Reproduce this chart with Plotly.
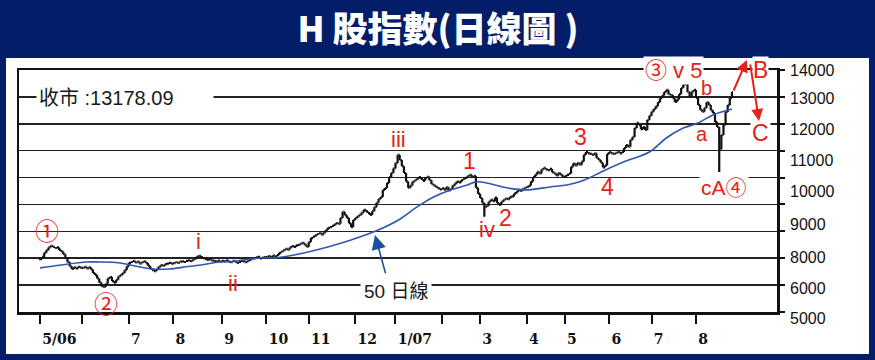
import numpy as np
import pandas as pd
import plotly.graph_objects as go

# ---------------- data ----------------
# daily closes of the H-share index, one list per month (trading sessions)
may06 = [6970, 7050, 7200, 7300, 7400, 7460, 7420, 7380, 7400, 7310, 7250, 7150, 7000, 6860, 6700, 6600, 6660, 6620, 6680, 6650]
jun06 = [6640, 6680, 6620, 6660, 6580, 6450, 6380, 6250, 6100, 5960, 5930, 6050, 6250, 6300, 6150, 6090, 6200, 6320, 6380, 6450, 6560, 6700]
jul06 = [6830, 6860, 6900, 6840, 6870, 6800, 6850, 6880, 6820, 6720, 6620, 6560, 6520, 6580, 6680, 6740, 6720, 6780, 6800, 6830, 6800]
aug06 = [6820, 6850, 6830, 6870, 6880, 6860, 6900, 6920, 6890, 6940, 6980, 7060, 7090, 7040, 7000, 6970, 6940, 6960, 6920, 6900, 6880, 6910, 6870]
sep06 = [6900, 6880, 6920, 6870, 6850, 6900, 6870, 6830, 6860, 6900, 6880, 6850, 6900, 6940, 6980, 7000, 7030, 7050, 6990, 7020, 7040]
oct06 = [7050, 7080, 7030, 7100, 7060, 7120, 7200, 7250, 7300, 7350, 7320, 7400, 7450, 7420, 7480, 7500, 7540, 7570, 7500, 7430]
nov06 = [7600, 7750, 7800, 7850, 7900, 7940, 7880, 7960, 8050, 8130, 8160, 8200, 8250, 8310, 8280, 8500, 8720, 8600, 8500, 8300, 8160, 8420]
dec06 = [8500, 8560, 8620, 8700, 8800, 8740, 8680, 8610, 8750, 8900, 9060, 9200, 9280, 9540, 9610, 9800, 10020, 10170, 10340]
jan07 = [10540, 10840, 10650, 10420, 10170, 9850, 9620, 9700, 9840, 9900, 9960, 10020, 9950, 9880, 9980, 10030, 9900, 9760, 9700, 9650, 9600, 9560]
feb07 = [9600, 9550, 9640, 9520, 9580, 9700, 9780, 9850, 9820, 9900, 9950, 9990, 10050, 10100, 10020, 10060, 9620, 9400]
mar07 = [9240, 9060, 8900, 8950, 9100, 9170, 9120, 9250, 9050, 8980, 9100, 9170, 9220, 9200, 9280, 9300, 9400, 9460, 9540, 9500, 9580, 9620]
apr07 = [9650, 9700, 9850, 10020, 10100, 10210, 10150, 10300, 10360, 10300, 10280, 10320, 10200, 10150, 10080, 10170, 10100, 10020]
may07 = [10050, 10100, 10150, 10400, 10520, 10450, 10540, 10480, 10600, 10850, 10950, 10900, 10880, 10840, 10900, 10730, 10650, 10550, 10380, 10450, 10880]
jun07 = [10950, 10900, 10880, 10920, 10960, 10900, 10950, 11100, 11210, 11150, 11400, 11510, 11840, 12030, 11950, 11800, 11880, 11770, 12140, 12300]
jul07 = [12450, 12550, 12650, 12800, 12950, 13050, 13180, 13260, 13100, 13070, 12950, 12810, 12900, 13100, 13330, 13450, 13520, 13180, 13000, 13200, 13260]
aug07 = [12960, 12700, 12520, 12450, 12590, 12800, 12700, 12500, 12400, 12070, 11880, 11050, 11580, 11950, 12440, 12700, 12960, 13178.09]

month_keys = ["2006-05", "2006-06", "2006-07", "2006-08", "2006-09", "2006-10", "2006-11", "2006-12",
              "2007-01", "2007-02", "2007-03", "2007-04", "2007-05", "2007-06", "2007-07", "2007-08"]
month_closes = [may06, jun06, jul06, aug06, sep06, oct06, nov06, dec06,
                jan07, feb07, mar07, apr07, may07, jun07, jul07, aug07]
month_labels = ["5/06", "", "7", "8", "9", "10", "11", "12", "1/07", "", "3", "4", "5", "6", "7", "8"]

hk_holidays = ["2006-05-01", "2006-05-05", "2006-05-31", "2006-10-02", "2006-10-30", "2006-12-25",
               "2006-12-26", "2007-01-01", "2007-02-19", "2007-02-20", "2007-04-05", "2007-04-06",
               "2007-04-09", "2007-05-01", "2007-05-24", "2007-06-19", "2007-07-02"]

# intraday spikes: (month, session within month, low)
wick_lows = [("2007-03", 2, 8540), ("2007-08", 11, 10210)]

# 50-day moving average (session number, value)
ma_session = [0, 10, 22, 28, 37, 45, 53, 61, 69, 76, 85, 91, 104, 112, 120, 136, 147, 159, 170, 178,
              186, 194, 202, 206, 211, 221, 230, 241, 249, 255, 260, 265, 276, 288, 296, 304, 311, 318, 327]
ma_value = [6640, 6750, 6860, 6860, 6830, 6710, 6600, 6600, 6680, 6750, 6860, 6880, 7010, 7020, 7120,
            7420, 7680, 8020, 8450, 8900, 9280, 9540, 9725, 9840, 9800, 9610, 9540, 9650, 9720, 9840,
            10000, 10200, 10590, 10950, 11470, 11840, 12030, 12330, 12550]

ytick_text = ["14000", "13000", "12000", "11000", "10000", "9000", "8000", "6000", "5000"]
ytick_at = [14000, 13000, 12000, 11000, 10000, 9000, 8000, 6000, 5000]
ytick_drift = [0, -2, -6, -10, -14, -20, -26, -3, -6]   # label offsets as printed (px)

# ---------------- build sessions ----------------
hol = pd.to_datetime(hk_holidays)
dates, closes, month_first = [], [], {}
for key, vals in zip(month_keys, month_closes):
    start = pd.Timestamp(key + "-01")
    bd = pd.bdate_range(start, start + pd.offsets.MonthEnd(0))
    td = bd[~bd.isin(hol)]
    if len(td) < len(vals):
        td = bd
    month_first[key] = len(closes)
    dates += list(td[:len(vals)])
    closes += list(vals)

session = np.arange(len(closes))
opens = [closes[0]] + closes[:-1]
highs = [max(o, c) for o, c in zip(opens, closes)]
lows = [min(o, c) for o, c in zip(opens, closes)]
for key, pos, lo in wick_lows:
    lows[month_first[key] + pos] = lo

NAVY = "#041d68"
RED = "#e62117"
BLUE = "#2f56b0"

fig = go.Figure()
fig.add_trace(go.Ohlc(
    x=session, open=opens, high=highs, low=lows, close=closes,
    increasing=dict(line=dict(color="#111111", width=2.2)),
    decreasing=dict(line=dict(color="#111111", width=2.2)),
    tickwidth=0.5, showlegend=False, hoverinfo="skip"))
fig.add_trace(go.Scatter(
    x=ma_session, y=ma_value, mode="lines",
    line=dict(color=BLUE, width=1.6, shape="spline", smoothing=1.0),
    showlegend=False, hoverinfo="skip"))

tickvals = [month_first[k] for k in month_keys]

fig.update_layout(
    width=875, height=360,
    margin=dict(l=19, r=98, t=70, b=48),
    paper_bgcolor=NAVY, plot_bgcolor="white",
    title=dict(text="H 股指數(日線圖 )", x=0.5006, y=0.9167, xanchor="center", yanchor="middle",
               font=dict(family="Noto Sans CJK TC", size=35, color="white", weight=900)),
    xaxis=dict(range=[-9.92, 348.3], tickmode="array", tickvals=tickvals, ticktext=month_labels,
               ticks="outside", ticklen=9, tickwidth=2, tickcolor="#111",
               ticklabelposition="outside right", ticklabelstandoff=13,
               tickfont=dict(family="DejaVu Serif", size=14, color="#111", weight="bold"),
               showgrid=False, zeroline=False, showline=True, linewidth=2.5, linecolor="#111",
               mirror=True, rangeslider=dict(visible=False), fixedrange=True),
    yaxis=dict(range=[5000, 14000], side="right", tick0=5000, dtick=1000,
               showgrid=True, gridcolor="#222", gridwidth=1.6,
               ticks="outside", ticklen=5, tickwidth=2, tickcolor="#111",
               showticklabels=False, zeroline=False, showline=True, linewidth=2.5,
               linecolor="#111", mirror=True, fixedrange=True),
    shapes=[dict(type="rect", xref="paper", yref="paper", x0=-0.01715, x1=1.12137,
                 y0=-0.17355, y1=1.04959, fillcolor="white", line=dict(width=0), layer="below")],
)

ann = []
for t, v, d in zip(ytick_text, ytick_at, ytick_drift):
    ann.append(dict(text=t, xref="paper", x=1, xanchor="left", xshift=11, yref="y", y=v,
                    yshift=d, showarrow=False,
                    font=dict(family="Liberation Sans", size=16, color="#111")))

def red(text, x, y, size=22, bg=None, pad=1, family="Liberation Sans, Noto Sans CJK TC"):
    d = dict(text=text, x=x, y=y, xref="x", yref="y", showarrow=False,
             font=dict(family=family, size=size, color=RED))
    if bg:
        d.update(bgcolor=bg, borderpad=pad)
    return d

ann += [
    red("①", 3.3, 8050, size=24, family="Noto Sans CJK TC"),
    red("②", 31.2, 5340, size=24, family="Noto Sans CJK TC"),
    red("i", 75.1, 7607),
    red("ii", 91.2, 6046),
    red("iii", 169.2, 11398),
    red("1", 203.2, 10618, size=23),
    red("iv", 211.2, 8053),
    red("2", 220.2, 8499, size=23),
    red("3", 255.2, 11510, size=23),
    red("4", 268.4, 9651, size=23),
    red("③ v 5", 299.4, 13963, size=22, bg="white"),
    red("b", 315.2, 13331, size=20),
    red("a", 312.9, 11621, size=20),
    red("cA④", 323.3, 9614, size=21, bg="white"),
    red("B", 340.7, 14000, size=23, bg="white", pad=0),
    red("C", 340.7, 11658, size=23, bg="white"),
]

ann += [
    dict(text="收市 :13178.09", x=-1.9, y=12959, xref="x", yref="y", xanchor="left",
         showarrow=False, bgcolor="white", width=172, align="left", borderpad=2,
         font=dict(family="Liberation Sans, Noto Sans CJK TC", size=20, color="#1a1a1a")),
    dict(text="50 日線", x=168.2, y=5748, xref="x", yref="y", showarrow=False,
         bgcolor="white", borderpad=3,
         font=dict(family="Liberation Sans, Noto Sans CJK TC", size=19, color="#1a1a1a")),
    dict(text="", x=158.3, y=7867, xref="x", yref="y", showarrow=True, ax=11, ay=40,
         arrowcolor="#1d4f9f", arrowhead=2, arrowsize=1.8, arrowwidth=1.6),
    dict(text="", x=334.1, y=1.0413, xref="x", yref="paper", showarrow=True, ax=-14, ay=32,
         arrowcolor=RED, arrowhead=2, arrowsize=1.2, arrowwidth=2),
    dict(text="", x=339.8, y=12104, xref="x", yref="y", showarrow=True, ax=-9, ay=-58,
         arrowcolor=RED, arrowhead=2, arrowsize=1.2, arrowwidth=2),
]
fig.update_layout(annotations=ann)

fig.write_html("out.html", config={"displayModeBar": False, "staticPlot": True},
               post_script="document.body.style.margin='0';document.body.style.background='#041d68';")
